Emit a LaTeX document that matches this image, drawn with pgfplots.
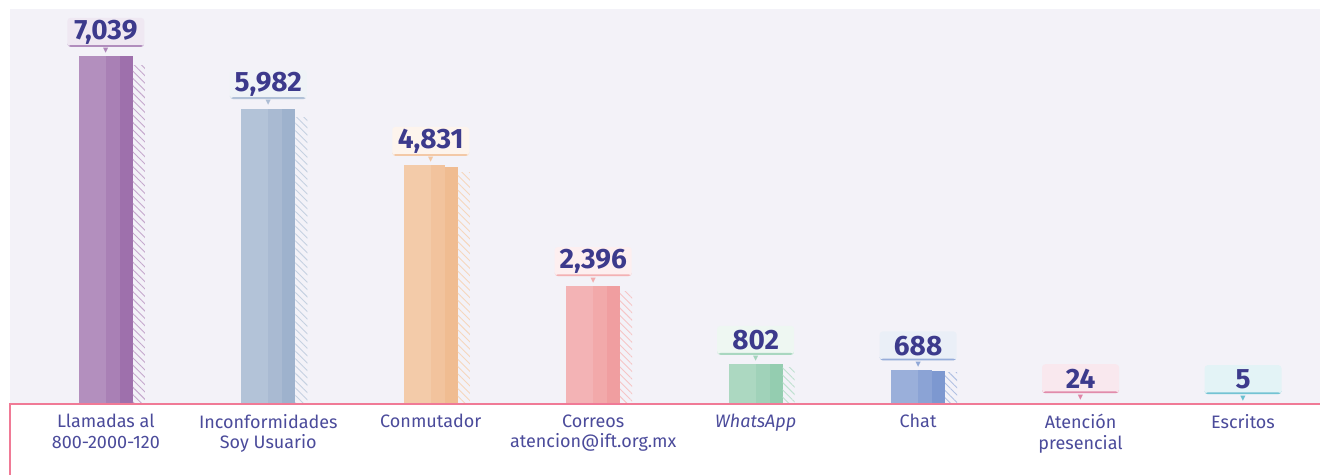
\documentclass[border=0pt]{standalone}
\usepackage{pgfplots}
\pgfplotsset{compat=1.18}
\usetikzlibrary{patterns.meta}
\usepackage{fontspec}
\setmainfont{Fira Sans}
\newfontfamily\symfont{DejaVu Sans}

\definecolor{bgc}{RGB}{243,242,248}
\definecolor{valc}{RGB}{60,58,140}
\definecolor{labc}{RGB}{75,75,155}
\definecolor{linec}{RGB}{240,122,150}
\definecolor{cA}{RGB}{158,112,172}
\definecolor{cB}{RGB}{158,178,205}
\definecolor{cC}{RGB}{240,188,145}
\definecolor{cD}{RGB}{240,158,160}
\definecolor{cE}{RGB}{148,205,176}
\definecolor{cF}{RGB}{125,152,208}
\definecolor{cG}{RGB}{218,110,150}
\definecolor{cH}{RGB}{80,180,200}

\tikzset{
  valbox/.style={anchor=south, yshift=4.6pt, xshift=6.75pt,
    fill=#1!16!white, rounded corners=1.6pt,
    minimum width=38.5pt, minimum height=14.5pt, inner sep=0pt,
    text=valc, font=\bfseries\fontsize{14}{14}\selectfont,
    path picture={\fill[#1!80!white]
      ([yshift=0.9pt]path picture bounding box.south west) rectangle (path picture bounding box.south east);}},
}
\pgfplotsset{
  segA/.style={ybar, draw=none, fill=#1!78!white, bar width=13.5pt, bar shift=-6.75pt,
    nodes near coords, every node near coord/.append style={valbox=#1}},
  segB/.style={ybar, draw=none, fill=#1!89!white, bar width=7pt, bar shift=3.5pt,
    nodes near coords={\symfont\fontsize{3.4}{3.4}\selectfont ▼},
    every node near coord/.append style={anchor=south, inner sep=0pt, xshift=-3.5pt,
      yshift=1.2pt, text=#1!85!white, fill=none}},
  segC/.style={ybar, draw=none, fill=#1, bar width=6.5pt, bar shift=10.25pt},
  segH/.style={ybar, draw=none, pattern={Lines[angle=-45,distance=2.6pt,line width=0.45pt]},
    pattern color=#1!60!white, bar width=6pt, bar shift=16.5pt},
}

\begin{document}
\begin{tikzpicture}
\useasboundingbox (0,0) rectangle (660pt,237.5pt);
\fill[white] (0,0) rectangle (660pt,237.5pt);
\begin{axis}[
  at={(5pt,35.5pt)}, anchor=south west,
  scale only axis, width=655pt, height=197.5pt,
  xmin=-0.59, xmax=7.474, ymin=0, ymax=8000,
  ybar,
  axis background/.style={fill=bgc},
  axis line style={draw=none},
  major tick length=0pt, ytick=\empty,
  xtick={0,...,7},
  xticklabels={{Llamadas al\\800-2000-120},{Inconformidades\\Soy Usuario},Conmutador,
    {Correos\\atencion@ift.org.mx},\textit{WhatsApp},Chat,{Atención\\presencial},Escritos},
  xticklabel style={align=center, font=\fontsize{9}{10.2}\selectfont, text=labc,
    inner sep=0pt, yshift=-5pt},
  clip=false,
  /pgf/number format/.cd, 1000 sep={,}, assume math mode=true,
]
% Llamadas al 800-2000-120
\addplot[segA=cA] coordinates {(0,7039)};
\addplot[segB=cA] coordinates {(0,7039)};
\addplot[segC=cA] coordinates {(0,7039)};
\addplot[segH=cA] coordinates {(0,6850)};
% Inconformidades Soy Usuario
\addplot[segA=cB] coordinates {(1,5982)};
\addplot[segB=cB] coordinates {(1,5982)};
\addplot[segC=cB] coordinates {(1,5982)};
\addplot[segH=cB] coordinates {(1,5800)};
% Conmutador
\addplot[segA=cC] coordinates {(2,4831)};
\addplot[segB=cC] coordinates {(2,4831)};
\addplot[segC=cC] coordinates {(2,4810)};
\addplot[segH=cC] coordinates {(2,4690)};
% Correos
\addplot[segA=cD] coordinates {(3,2396)};
\addplot[segB=cD] coordinates {(3,2396)};
\addplot[segC=cD] coordinates {(3,2380)};
\addplot[segH=cD] coordinates {(3,2280)};
% WhatsApp
\addplot[segA=cE] coordinates {(4,802)};
\addplot[segB=cE] coordinates {(4,802)};
\addplot[segC=cE] coordinates {(4,802)};
\addplot[segH=cE] coordinates {(4,745)};
% Chat
\addplot[segA=cF] coordinates {(5,688)};
\addplot[segB=cF] coordinates {(5,688)};
\addplot[segC=cF] coordinates {(5,675)};
\addplot[segH=cF] coordinates {(5,640)};
% Atencion presencial
\addplot[segA=cG] coordinates {(6,24)};
\addplot[segB=cG] coordinates {(6,24)};
\addplot[segC=cG] coordinates {(6,24)};
\addplot[segH=cG] coordinates {(6,20)};
% Escritos
\addplot[segA=cH] coordinates {(7,5)};
\addplot[segB=cH] coordinates {(7,5)};
\addplot[segC=cH] coordinates {(7,5)};
\addplot[segH=cH] coordinates {(7,5)};
\end{axis}
\draw[linec, line width=0.8pt] (5pt,0) -- (5pt,35.5pt) -- (660pt,35.5pt);
\end{tikzpicture}
\end{document}
